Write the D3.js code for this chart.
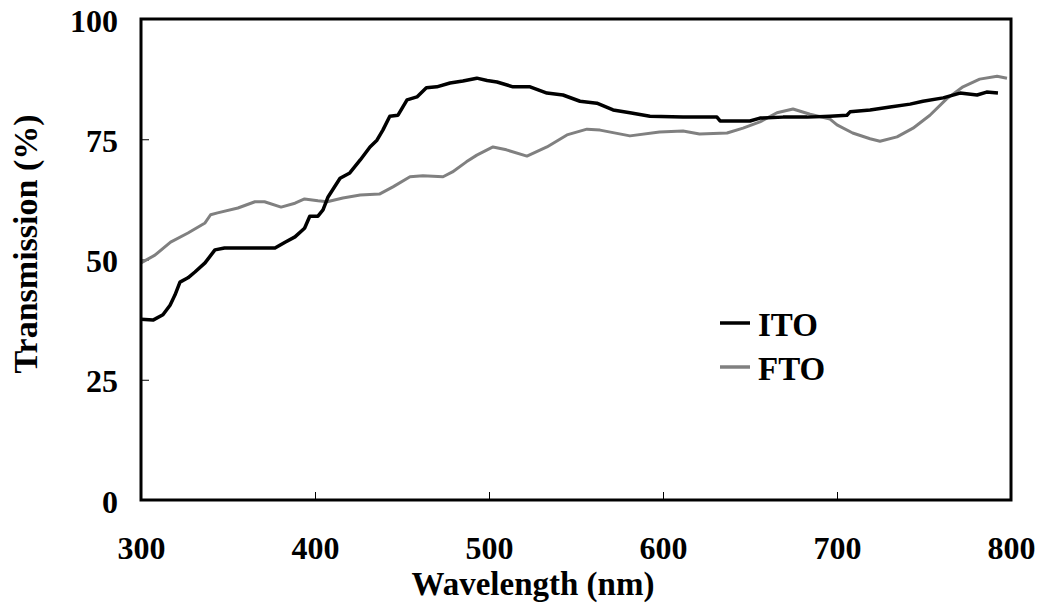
<!DOCTYPE html>
<html>
<head>
<meta charset="utf-8">
<script src="https://cdn.jsdelivr.net/npm/d3@7"></script>
<style>
  html, body { margin: 0; padding: 0; background: #fff; }
  svg text { font-family: "Liberation Serif", "Times New Roman", serif; font-weight: bold; fill: #000; }
</style>
</head>
<body>
<div id="chart"></div>
<script>
/* Transmission spectra of ITO and FTO glass. */

var xTicks = [300, 400, 500, 600, 700, 800];
var yTicks = [0, 25, 50, 75, 100];

var itoWl = [300, 306.9, 312.6, 316.7, 319.5, 322.4, 327, 331, 336.8, 342.5, 348, 377, 382.8, 388.5, 394, 397,
  401.7, 404.6, 407.5, 414.4, 420, 426, 431.6, 435.6, 439, 443, 447.7, 452.9, 458.6, 464, 470, 477.6, 485, 493,
  498.9, 504.6, 513.8, 523.6, 533.3, 542.5, 552.3, 562, 571.3, 581, 592.5, 611.5, 631, 632.8, 650, 655.7, 669,
  682.8, 696, 705.7, 707.5, 719, 730.5, 742, 749.4, 761, 770.7, 780.5, 786, 792.5];
var itoT = [37.6, 37.4, 38.5, 40.5, 42.6, 45.3, 46.2, 47.4, 49.3, 52, 52.4, 52.4, 53.6, 54.7, 56.5, 59,
  59, 60.3, 63, 66.9, 68, 70.7, 73.4, 74.8, 76.9, 79.8, 80, 83.2, 83.8, 85.7, 85.9, 86.7, 87.1, 87.7,
  87.2, 86.9, 85.9, 85.9, 84.6, 84.2, 82.9, 82.5, 81.1, 80.5, 79.8, 79.6, 79.6, 78.8, 78.8, 79.4, 79.6,
  79.6, 79.8, 80, 80.7, 81.1, 81.7, 82.3, 82.9, 83.6, 84.6, 84.2, 84.8, 84.6];

var ftoWl = [300, 308, 317, 327, 336.8, 340, 344, 355.7, 365.5, 371, 380.5, 388.5, 394, 401.7, 407, 416, 426,
  437, 444.8, 454.6, 462, 473.6, 479, 487, 493, 502.3, 510, 521.8, 533.3, 544.8, 556.3, 563.8, 581, 598, 611.5,
  621, 636.8, 646, 655.7, 665.5, 674.7, 684.5, 696, 700, 709, 719, 724.7, 734.5, 743.7, 753.4, 763, 772.4, 782,
  792, 797.7];
var ftoT = [49.3, 50.9, 53.6, 55.5, 57.6, 59.3, 59.7, 60.7, 62, 62, 60.9, 61.7, 62.6, 62.2, 62, 62.8, 63.4,
  63.6, 65.1, 67.2, 67.4, 67.2, 68.2, 70.3, 71.7, 73.4, 72.8, 71.5, 73.4, 75.9, 77.1, 76.9, 75.7, 76.5, 76.7,
  76.1, 76.3, 77.3, 78.6, 80.5, 81.3, 80.2, 79.2, 78, 76.3, 75.1, 74.6, 75.5, 77.3, 80, 83.4, 85.9, 87.5,
  88.1, 87.7];

var seriesNames = ["ITO", "FTO"];
var seriesColors = ["#000000", "#808080"];

var width = 1042, height = 604;
var margin = { top: 19, right: 31, bottom: 104, left: 141 };
var innerW = width - margin.left - margin.right;
var innerH = height - margin.top - margin.bottom;

var svg = d3.select("#chart").append("svg")
  .attr("width", width).attr("height", height)
  .attr("viewBox", "0 0 " + width + " " + height);

var g = svg.append("g").attr("transform", "translate(" + margin.left + "," + margin.top + ")");

var x = d3.scaleLinear().domain([300, 800]).range([0, innerW]);
var y = d3.scaleLinear().domain([0, 100]).range([innerH, 0]);

/* inward tick marks */
var xAxis = g.append("g").attr("transform", "translate(0," + innerH + ")")
  .call(d3.axisBottom(x).tickValues(xTicks).tickSizeInner(-8).tickSizeOuter(0).tickPadding(36));
var yAxis = g.append("g")
  .call(d3.axisLeft(y).tickValues(yTicks).tickSizeInner(-8).tickSizeOuter(0).tickPadding(23));
[xAxis, yAxis].forEach(function (a) {
  a.select(".domain").remove();
  a.selectAll(".tick line").attr("stroke", "#000").attr("stroke-width", 1);
  a.selectAll(".tick text").attr("font-size", 32).style("font-family", "Liberation Serif, serif")
    .style("font-weight", "bold");
});
yAxis.selectAll(".tick text").attr("dy", "0.38em");

var line = d3.line()
  .x(function (d) { return x(d[0]); })
  .y(function (d) { return y(d[1]); });

var seriesData = [
  itoWl.map(function (w, i) { return [w, itoT[i]]; }),
  ftoWl.map(function (w, i) { return [w, ftoT[i]]; })
];

/* draw FTO first so ITO sits on top */
[1, 0].forEach(function (k) {
  g.append("path").datum(seriesData[k])
    .attr("fill", "none")
    .attr("stroke", seriesColors[k])
    .attr("stroke-width", k === 0 ? 3.5 : 3)
    .attr("stroke-linejoin", "round")
    .attr("d", line);
});

/* frame */
g.append("rect").attr("width", innerW).attr("height", innerH)
  .attr("fill", "none").attr("stroke", "#000").attr("stroke-width", 3);

/* axis titles */
svg.append("text").attr("x", 533).attr("y", 595)
  .attr("text-anchor", "middle").attr("font-size", 33).text("Wavelength (nm)");
svg.append("text").attr("transform", "translate(37,244) rotate(-90)")
  .attr("text-anchor", "middle").attr("font-size", 34).text("Transmission (%)");

/* legend */
var lg = svg.append("g").attr("transform", "translate(720,323)");
seriesNames.forEach(function (name, i) {
  var row = lg.append("g").attr("transform", "translate(0," + (i * 44) + ")");
  row.append("line").attr("x1", 0).attr("x2", 30).attr("y1", 0).attr("y2", 0)
    .attr("stroke", seriesColors[i]).attr("stroke-width", 3.5);
  row.append("text").attr("x", 38).attr("y", 13).attr("font-size", 33).text(name);
});
</script>
</body>
</html>
